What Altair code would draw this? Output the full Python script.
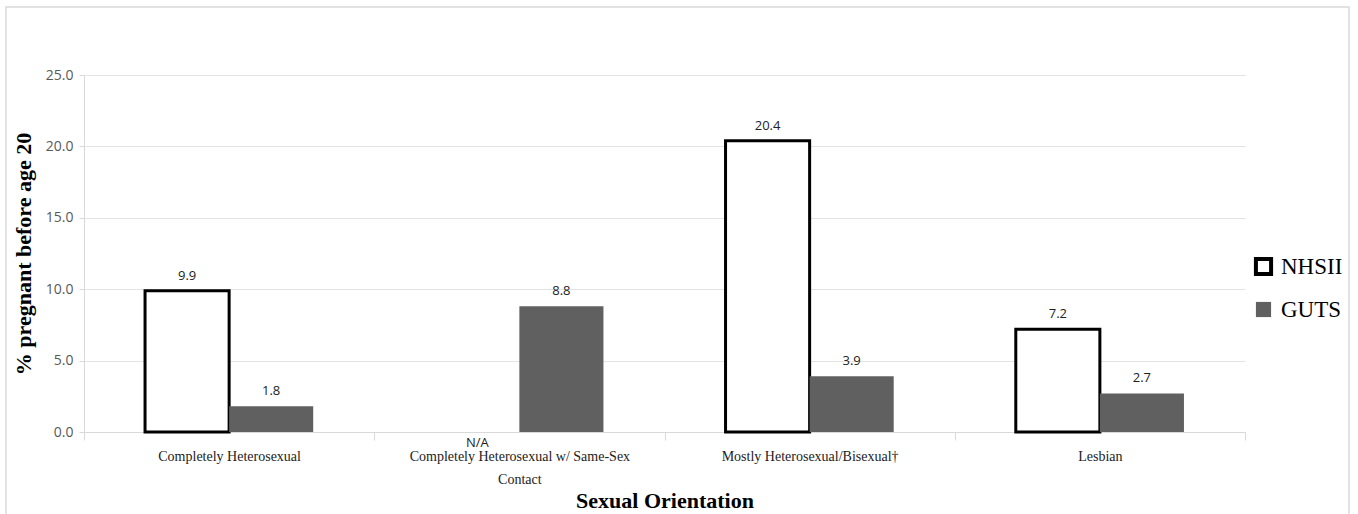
import altair as alt
import pandas as pd

categories = ["Completely Heterosexual",
              "Completely Heterosexual w/ Same-Sex Contact",
              "Mostly Heterosexual/Bisexual\u2020",
              "Lesbian"]
series_names = ["NHSII", "GUTS"]
nhsii = [9.9, None, 20.4, 7.2]
guts = [1.8, 8.8, 3.9, 2.7]
y_ticks = [0, 5, 10, 15, 20, 25]

rows = []
for c, a, b in zip(categories, nhsii, guts):
    rows.append({"cat": c, "series": "NHSII", "value": a,
                 "label": ("%.1f" % a) if a is not None else "N/A"})
    rows.append({"cat": c, "series": "GUTS", "value": b, "label": "%.1f" % b})
df = pd.DataFrame(rows)

x_enc = alt.X("cat:N", sort=categories, scale=alt.Scale(paddingInner=0, paddingOuter=0),
              axis=alt.Axis(title="Sexual Orientation", labelAngle=0, labelLimit=0,
                            labelFont="Liberation Serif", labelFontSize=14, labelColor="#222",
                            labelPadding=9, labelLineHeight=23,
                            labelExpr="datum.label == 'Completely Heterosexual w/ Same-Sex Contact' ? ['Completely Heterosexual w/ Same-Sex', 'Contact'] : datum.label",
                            titleFont="Liberation Serif", titleFontSize=22, titleFontWeight="bold",
                            titleColor="#000", titlePadding=4,
                            domainColor="#d9d9d9", tickColor="#d9d9d9", tickSize=8,
                            tickBand="extent", grid=False))
xo_enc = alt.XOffset("series:N", sort=series_names,
                     scale=alt.Scale(domain=series_names, paddingInner=0, paddingOuter=0.726))

y_scale = alt.Scale(domain=[0, 25], nice=False, zero=True, padding=0)

base = alt.Chart(df)

bars = base.mark_bar(strokeWidth=3).encode(
    x=x_enc,
    xOffset=xo_enc,
    y=alt.Y("value:Q", scale=y_scale,
            axis=alt.Axis(title="% pregnant before age 20", values=y_ticks, format=".1f",
                          labelFont="Open Sans", labelFontSize=14, labelColor="#595959",
                          labelPadding=6, tickColor="#d9d9d9", tickSize=5,
                          domainColor="#d9d9d9", gridColor="#e3e3e3",
                          titleFont="Liberation Serif", titleFontSize=22, titleFontWeight="bold",
                          titleColor="#000", titlePadding=10)),
    fill=alt.Fill("series:N", sort=series_names,
                  scale=alt.Scale(domain=series_names, range=["#ffffff", "#606060"]),
                  legend=alt.Legend(title=None, orient="none", legendX=1168, legendY=180,
                                    symbolType="square", symbolSize=230, symbolStrokeWidth=4,
                                    labelFont="Liberation Serif", labelFontSize=23,
                                    labelColor="#000", rowPadding=10, labelOffset=6)),
    stroke=alt.Stroke("series:N", sort=series_names,
                      scale=alt.Scale(domain=series_names, range=["#000000", "transparent"]),
                      legend=None),
)

labels = base.transform_filter("datum.value != null").mark_text(
    baseline="bottom", dy=-8, font="Open Sans", fontSize=13, color="#222"
).encode(x=alt.X("cat:N", sort=categories), xOffset=xo_enc,
         y=alt.Y("value:Q", scale=y_scale), text="label:N")

na = base.transform_filter("datum.value == null").mark_text(
    baseline="top", dy=5, font="Open Sans", fontSize=13, color="#222"
).encode(x=alt.X("cat:N", sort=categories), xOffset=xo_enc, y=alt.datum(0), text="label:N")

frame = alt.Chart(pd.DataFrame({"f": [0]})).mark_rect(
    fill=None, stroke="#d9d9d9", strokeWidth=1.5
).encode(x=alt.value(-78), x2=alt.value(1265), y=alt.value(-68), y2=alt.value(460))

chart = alt.layer(frame, bars, labels, na).properties(
    width=1161, height=357,
    autosize=alt.AutoSizeParams(type="none"),
    padding={"left": 84, "top": 75, "right": 113, "bottom": 82},
).configure(background="white").configure_view(stroke=None)

chart.save("out.html", embed_options={"renderer": "svg", "actions": False})
